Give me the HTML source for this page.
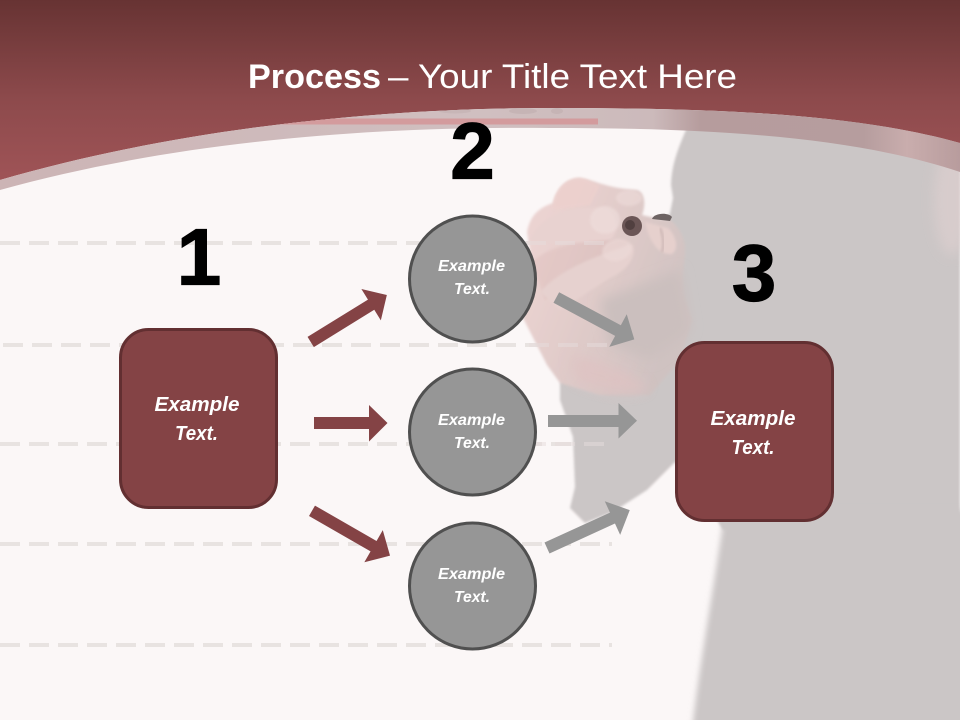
<!DOCTYPE html>
<html><head><meta charset="utf-8"><style>html,body{margin:0;padding:0;background:#fbf7f7}svg{display:block}text{font-family:"Liberation Sans",sans-serif}</style></head>
<body>
<svg width="960" height="720" viewBox="0 0 960 720" xmlns="http://www.w3.org/2000/svg">
<defs>
<linearGradient id="top" gradientUnits="userSpaceOnUse" x1="0" y1="0" x2="0" y2="175"><stop offset="0" stop-color="#673333"/><stop offset=".57" stop-color="#8d4a4c"/><stop offset="1" stop-color="#9e5356"/></linearGradient>
<linearGradient id="band" x1="0" y1="0" x2="1" y2="0"><stop offset="0" stop-color="#ccb4b5"/><stop offset=".5" stop-color="#d0bfc0"/><stop offset=".68" stop-color="#ccbabb"/><stop offset=".73" stop-color="#b69c9d"/><stop offset=".9" stop-color="#b69d9e"/><stop offset=".945" stop-color="#c9adad"/><stop offset="1" stop-color="#b89c9d"/></linearGradient>
<linearGradient id="hand" gradientUnits="userSpaceOnUse" x1="535" y1="240" x2="685" y2="300"><stop offset="0" stop-color="#ebd3d1"/><stop offset=".45" stop-color="#e0cbc9"/><stop offset="1" stop-color="#cfc2c1"/></linearGradient>
<filter id="b1" x="-10%" y="-10%" width="120%" height="120%"><feGaussianBlur stdDeviation="1.2"/></filter>
<filter id="b2" x="-10%" y="-10%" width="120%" height="120%"><feGaussianBlur stdDeviation="3"/></filter>
<filter id="b3" x="-50%" y="-50%" width="200%" height="200%"><feGaussianBlur stdDeviation="6"/></filter>
<clipPath id="bandclip"><path d="M0 180C180 128 380 108 550 108C700 108 850 112 960 143V172C850 135 700 128 550 128C380 126 180 140 0 190Z"/></clipPath>
</defs>
<rect width="960" height="720" fill="#fbf7f7"/>
<g stroke="#e8e3e1" stroke-width="4" stroke-dasharray="20 9" fill="none">
<path d="M0 243H612"/><path d="M0 345H612" stroke-dashoffset="-3"/><path d="M0 444H612"/><path d="M0 544H612"/><path d="M0 645H612"/>
</g>
<path d="M690 120C680 145 672 160 671 185L673 198L670 213L660 240L620 300L560 383L560 400L573 437L575 487L570 508L585 523L613 512L647 490L675 462L690 475L723 530H960V120Z" fill="#cbc6c6" filter="url(#b1)"/>
<path d="M725 510C712 600 700 660 692 730H970V510Z" fill="#cbc6c6" filter="url(#b2)"/>
<ellipse cx="952" cy="200" rx="18" ry="55" fill="#e0d0d0" opacity=".6" filter="url(#b3)"/>

<path d="M553 203C556 190 565 178 580 178C595 180 605 188 637 190C645 192 646 205 642 215L655 218L670 220C680 228 686 240 685 252C684 270 680 280 685 300L692 320L680 360L650 395L600 395L560 383L547 365L523 318L530 252L527 232C530 215 540 207 553 203Z" fill="url(#hand)" filter="url(#b1)"/>
<path d="M600 300L680 270L690 330L650 360L610 345Z" fill="#cbbfbe" filter="url(#b3)"/>
<path d="M570 355C600 360 630 370 648 388C635 398 600 392 575 380Z" fill="#dfc2c2" opacity=".75" filter="url(#b3)"/>
<path d="M553 203C556 190 565 178 580 178C588 179 592 183 600 186L590 205L553 210Z" fill="#edd0cd" opacity=".8" filter="url(#b1)"/>
<path d="M530 240C540 215 570 205 605 208C620 215 618 235 610 240L560 245Z" fill="#e8d2d0" filter="url(#b1)"/>
<path d="M532 262C550 245 580 240 628 240L622 258C590 275 560 290 545 300Z" fill="#d9b5b3" opacity=".3" filter="url(#b1)"/>
<path d="M540 292C560 270 590 258 632 244C638 255 628 270 610 278L560 310Z" fill="#e6d1cf" filter="url(#b1)"/>
<ellipse cx="605" cy="220" rx="15" ry="14" fill="#efdfdd" opacity=".6" filter="url(#b1)"/>
<ellipse cx="617" cy="250" rx="15" ry="11" fill="#eedbd9" opacity=".6" filter="url(#b1)" transform="rotate(-15 617 250)"/>
<ellipse cx="629" cy="198" rx="13" ry="8" fill="#eedcda" opacity=".6" filter="url(#b1)"/>
<path d="M645 222L668 228C678 238 678 250 672 254C660 255 650 245 645 222Z" fill="#e6d0cd" filter="url(#b1)"/>
<path d="M660 228C664 238 664 246 662 252" stroke="#c8b2b1" stroke-width="2" fill="none" filter="url(#b1)"/>
<path d="M652 219C654 213 668 212 672 217L670 221Z" fill="#6e6464"/>
<circle cx="632" cy="226" r="10" fill="#6b5656"/>
<circle cx="630" cy="225" r="5" fill="#403232" opacity=".6"/>
<g stroke="#e6dcdb" stroke-width="4" stroke-dasharray="20 9" fill="none" opacity=".5">
<path d="M526 243H612"/><path d="M526 345H612" stroke-dashoffset="-3"/><path d="M526 444H612"/>
</g>

<path d="M0 0H960V143C850 112 700 108 550 108C380 108 180 128 0 180Z" fill="url(#top)"/>
<path d="M0 180C180 128 380 108 550 108C700 108 850 112 960 143V172C850 135 700 128 550 128C380 126 180 140 0 190Z" fill="url(#band)"/>
<g clip-path="url(#bandclip)">
<rect x="270" y="118.500" width="328" height="6" fill="#d39b9d"/>
<ellipse cx="455" cy="111" rx="16" ry="2.500" fill="#c8b6b7"/><ellipse cx="523" cy="111" rx="14" ry="3" fill="#c6b4b5"/><ellipse cx="557" cy="111" rx="6" ry="3" fill="#c6b4b5"/>
</g>

<text x="248" y="88" font-size="34" font-weight="bold" fill="#fff" textLength="133" lengthAdjust="spacingAndGlyphs">Process</text>
<text x="388" y="88" font-size="34" fill="#fff" textLength="349" lengthAdjust="spacingAndGlyphs">– Your Title Text Here</text>

<g font-size="80" font-weight="bold" text-anchor="middle" fill="#000" stroke="#000" stroke-width="1.200">
<text x="472.500" y="178.500">2</text>
<text x="199" y="284.500">1</text>
<text x="754" y="300.500">3</text>
</g>

<rect x="120.500" y="329.500" width="156" height="178" rx="28" fill="#844345" stroke="#622f31" stroke-width="3"/>
<rect x="676.500" y="342.500" width="156" height="178" rx="28" fill="#844345" stroke="#622f31" stroke-width="3"/>
<g font-size="20" font-weight="bold" font-style="italic" fill="#fff">
<text x="154.500" y="411" textLength="85" lengthAdjust="spacingAndGlyphs">Example</text>
<text x="175" y="440" textLength="43" lengthAdjust="spacingAndGlyphs">Text.</text>
<text x="710.500" y="425" textLength="85" lengthAdjust="spacingAndGlyphs">Example</text>
<text x="731.500" y="454" textLength="43" lengthAdjust="spacingAndGlyphs">Text.</text>
</g>

<g fill="#969696" stroke="#505050" stroke-width="3">
<circle cx="472.500" cy="279" r="63"/><circle cx="472.500" cy="432" r="63"/><circle cx="472.500" cy="586" r="63"/>
</g>
<g font-size="16" font-weight="bold" font-style="italic" fill="#fff">
<text x="438" y="271" textLength="67" lengthAdjust="spacingAndGlyphs">Example</text>
<text x="454" y="294" textLength="36" lengthAdjust="spacingAndGlyphs">Text.</text>
<text x="438" y="425" textLength="67" lengthAdjust="spacingAndGlyphs">Example</text>
<text x="454" y="448" textLength="36" lengthAdjust="spacingAndGlyphs">Text.</text>
<text x="438" y="579" textLength="67" lengthAdjust="spacingAndGlyphs">Example</text>
<text x="454" y="602" textLength="36" lengthAdjust="spacingAndGlyphs">Text.</text>
</g>

<g fill="#844345">
<polygon points="0,-6 71,-6 71,-18.500 89.500,0 71,18.500 71,6 0,6" transform="translate(310.700 342) rotate(-31.700)"/>
<polygon points="314,417 369,417 369,405 387.500,423 369,441.500 369,429 314,429"/>
<polygon points="0,-6 71,-6 71,-18.500 90,0 71,18.500 71,6 0,6" transform="translate(312 510.800) rotate(29.900)"/>
</g>
<g fill="#969696">
<polygon points="0,-6 70,-6 70,-18.500 88.500,0 70,18.500 70,6 0,6" transform="translate(556.300 297.500) rotate(28.200)"/>
<polygon points="548,415 618.500,415 618.500,403 637,420.700 618.500,438.500 618.500,427 548,427"/>
<polygon points="0,-6 72,-6 72,-18.500 91,0 72,18.500 72,6 0,6" transform="translate(547 548) rotate(-24.600)"/>
</g>
</svg>
</body></html>
